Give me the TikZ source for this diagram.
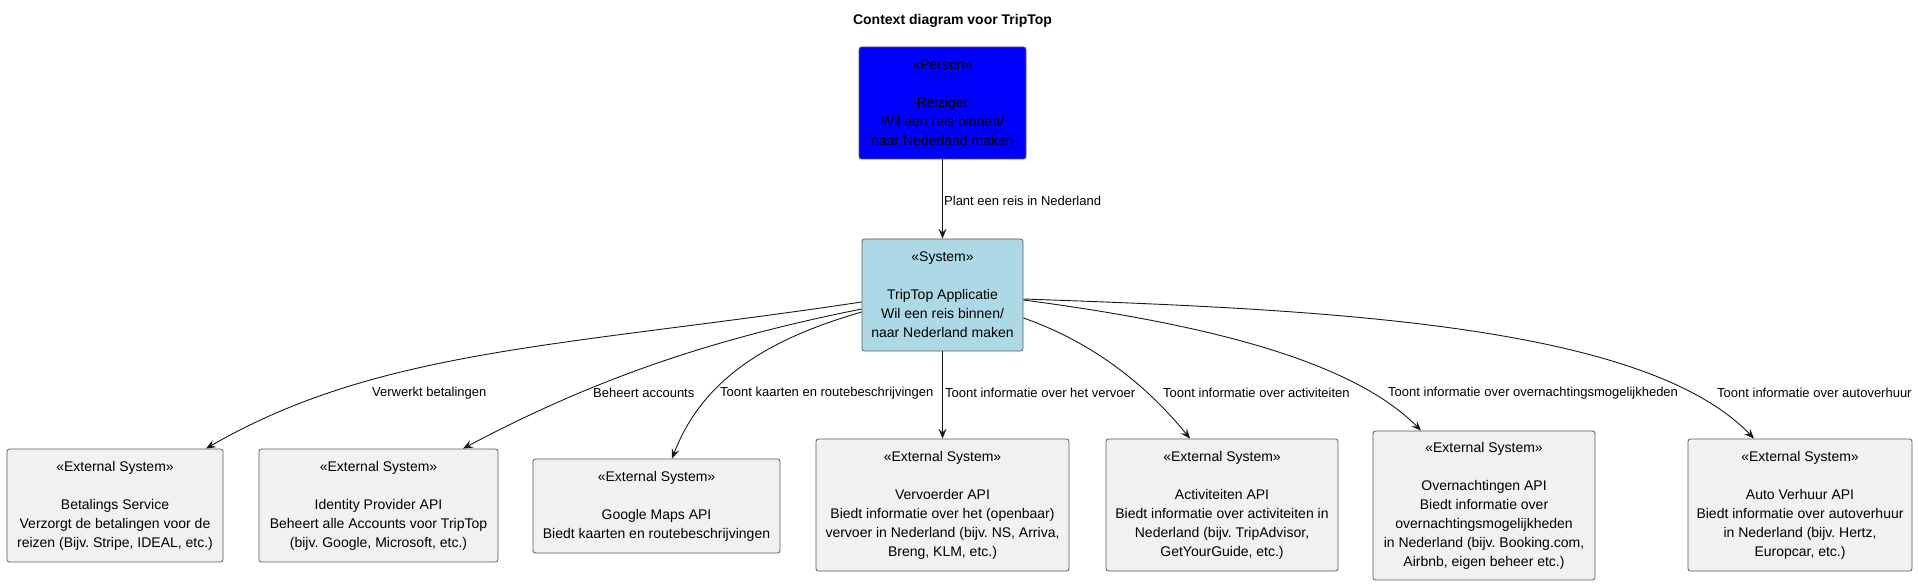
\documentclass[tikz,border=0pt]{standalone}
\usepackage{fontspec}
\setmainfont{Liberation Sans}
\usetikzlibrary{arrows.meta}
\definecolor{personblue}{HTML}{0000FF}
\definecolor{systemblue}{HTML}{ADD8E6}
\definecolor{extgray}{HTML}{F1F1F1}
\definecolor{edgeline}{HTML}{181818}
\definecolor{boxline}{HTML}{5A5A5A}
\frenchspacing

\begin{document}
\begin{tikzpicture}[x=1pt,y=-1pt,
	box/.style={draw=boxline, line width=0.8pt, rounded corners=2.5pt, align=center, inner sep=0pt, font=\fontsize{14}{19}\selectfont},
	ext/.style={box, fill=extgray},
	flow/.style={draw=edgeline, line width=0.9pt, -{Stealth[length=10pt,width=8pt,inset=4pt]}},
	lbl/.style={anchor=west, inner sep=0pt, font=\fontsize{13}{15}\selectfont}]
	\useasboundingbox (0,0) rectangle (1918,585);
	% Title
	\node[font=\bfseries\fontsize{14}{17}\selectfont] (title) at (952.5,21) {Context diagram voor TripTop};
	% Person and system
	\node[box, fill=personblue, minimum width=167pt, minimum height=112pt] (person) at (942.5,103) {«Person»\\[19pt]Reiziger\\Wil een reis binnen/\\naar Nederland maken};
	\node[box, fill=systemblue, minimum width=161pt, minimum height=112pt] (sys) at (942.5,295) {«System»\\[19pt]TripTop Applicatie\\Wil een reis binnen/\\naar Nederland maken};
	% External systems
	\node[ext, minimum width=216pt, minimum height=113pt] (betal) at (115,505.5) {«External System»\\[19pt]Betalings Service\\Verzorgt de betalingen voor de\\reizen (Bijv. Stripe, IDEAL, etc.)};
	\node[ext, minimum width=239pt, minimum height=113pt] (ident) at (378.5,505.5) {«External System»\\[19pt]Identity Provider API\\Beheert alle Accounts voor TripTop\\(bijv. Google, Microsoft, etc.)};
	\node[ext, minimum width=247pt, minimum height=94pt] (google) at (656.5,506) {«External System»\\[19pt]Google Maps API\\Biedt kaarten en routebeschrijvingen};
	\node[ext, minimum width=253pt, minimum height=132pt] (vervoer) at (942.5,505) {«External System»\\[19pt]Vervoerder API\\Biedt informatie over het (openbaar)\\vervoer in Nederland (bijv. NS, Arriva,\\Breng, KLM, etc.)};
	\node[ext, minimum width=232pt, minimum height=132pt] (activ) at (1222,505) {«External System»\\[19pt]Activiteiten API\\Biedt informatie over activiteiten in\\Nederland (bijv. TripAdvisor,\\GetYourGuide, etc.)};
	\node[ext, minimum width=222pt, minimum height=149pt] (overn) at (1484,505.5) {«External System»\\[19pt]Overnachtingen API\\Biedt informatie over\\overnachtingsmogelijkheden\\in Nederland (bijv. Booking.com,\\Airbnb, eigen beheer etc.)};
	\node[ext, minimum width=224pt, minimum height=132pt] (auto) at (1800,505) {«External System»\\[19pt]Auto Verhuur API\\Biedt informatie over autoverhuur\\in Nederland (bijv. Hertz,\\Europcar, etc.)};
	% Connectors
	\draw[flow] (person) -- (sys);
	\draw[flow] ([yshift=-7pt]sys.west) .. controls +(-300,45) and +(173,-100) .. ([xshift=91pt]betal.north);
	\draw[flow] ([yshift=-14pt]sys.west) .. controls +(-150,30) and +(132,-70) .. ([xshift=84.5pt]ident.north);
	\draw[flow] ([yshift=-17pt]sys.west) .. controls +(-86,25) and +(32,-84) .. ([xshift=15.5pt]google.north);
	\draw[flow] (sys) -- (vervoer);
	\draw[flow] ([yshift=-23pt]sys.east) .. controls +(75.6,26.4) and +(-37.8,-46.8) .. ([xshift=-32pt]activ.north);
	\draw[flow] ([yshift=-5pt]sys.east) .. controls +(178,23.4) and +(-70,-71) .. ([xshift=-63pt]overn.north);
	\draw[flow] ([yshift=-4pt]sys.east) .. controls +(300,10.5) and +(-110,-115) .. ([xshift=-46pt]auto.north);
	% Connector labels
	\node[lbl] (lplant) at (944,201) {Plant een reis in Nederland};
	\node[lbl] (lbetal) at (372,393) {Verwerkt betalingen};
	\node[lbl] (lident) at (593,393) {Beheert accounts};
	\node[lbl] (lgoogle) at (720,393) {Toont kaarten en routebeschrijvingen};
	\node[lbl] (lvervoer) at (945,393) {Toont informatie over het vervoer};
	\node[lbl] (lactiv) at (1163,393) {Toont informatie over activiteiten};
	\node[lbl] (lovern) at (1388,393) {Toont informatie over overnachtingsmogelijkheden};
	\node[lbl] (lauto) at (1717,393) {Toont informatie over autoverhuur};
\end{tikzpicture}
\end{document}
